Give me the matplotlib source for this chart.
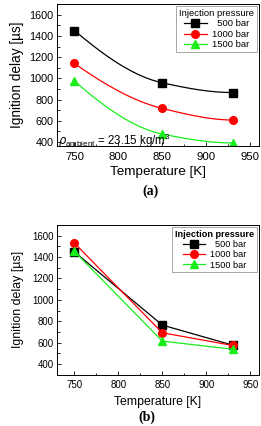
import numpy as np
import matplotlib
matplotlib.use('Agg')
from matplotlib import pyplot as plt
from matplotlib.ticker import MultipleLocator

plt.rcParams['font.family'] = ['Liberation Sans', 'DejaVu Sans']
plt.rcParams['mathtext.fontset'] = 'custom'
plt.rcParams['mathtext.rm'] = 'Liberation Sans'

temps = [750, 850, 930]
labels = ['  500 bar', '1000 bar', '1500 bar']
colors = ['black', 'red', '#1aee1a']
markers = ['s', 'o', '^']

# (a) ignition delay [us]
delay_a_500 = [1452, 958, 866]
delay_a_1000 = [1141, 716, 606]
delay_a_1500 = [974, 474, 390]

# (b) ignition delay [us]
delay_b_500 = [1448, 765, 578]
delay_b_1000 = [1530, 693, 575]
delay_b_1500 = [1452, 615, 540]


def pchip(x, y, n=120):
    # monotone cubic through the data points, for the smoothed lines of (a)
    x = np.asarray(x, float)
    y = np.asarray(y, float)
    h = np.diff(x)
    d = np.diff(y) / h
    m = np.zeros_like(y)
    for k in range(1, len(x) - 1):
        if d[k - 1] * d[k] > 0:
            w1 = 2 * h[k] + h[k - 1]
            w2 = h[k] + 2 * h[k - 1]
            m[k] = (w1 + w2) / (w1 / d[k - 1] + w2 / d[k])
    for i, (j0, j1, hh0, hh1) in enumerate([(0, 1, h[0], h[1]), (-1, -2, h[-1], h[-2])]):
        e = ((2 * hh0 + hh1) * d[j0] - hh0 * d[j1]) / (hh0 + hh1)
        if np.sign(e) != np.sign(d[j0]):
            e = 0
        elif np.sign(d[j0]) != np.sign(d[j1]) and abs(e) > 3 * abs(d[j0]):
            e = 3 * d[j0]
        m[0 if i == 0 else -1] = e
    xs, ys = [], []
    for k in range(len(x) - 1):
        t = np.linspace(0, 1, n)
        h00 = 2 * t**3 - 3 * t**2 + 1
        h10 = t**3 - 2 * t**2 + t
        h01 = -2 * t**3 + 3 * t**2
        h11 = t**3 - t**2
        xs.append(x[k] + t * h[k])
        ys.append(h00 * y[k] + h10 * h[k] * m[k] + h01 * y[k + 1] + h11 * h[k] * m[k + 1])
    return np.concatenate(xs), np.concatenate(ys)


fig = plt.figure(figsize=(2.61, 4.26), dpi=100)
ax1 = fig.add_axes([0.218, 0.657, 0.774, 0.333])
ax2 = fig.add_axes([0.218, 0.120, 0.774, 0.352])


def style(ax, ylo, tfs, xfs, yfs, xpad, ypad):
    ax.set_xlim(730, 960)
    ax.set_ylim(ylo, 1700)
    ax.xaxis.set_major_locator(MultipleLocator(50))
    ax.xaxis.set_minor_locator(MultipleLocator(25))
    ax.yaxis.set_major_locator(MultipleLocator(200))
    ax.yaxis.set_minor_locator(MultipleLocator(100))
    ax.tick_params(which='both', direction='in', width=0.6)
    ax.tick_params(axis='y', labelsize=tfs[1], pad=2.5)
    ax.tick_params(axis='x', labelsize=tfs[0], pad=4)
    ax.tick_params(which='major', length=3)
    ax.tick_params(which='minor', length=1.8)
    ax.set_xlabel('Temperature [K]', fontsize=xfs, labelpad=xpad)
    ax.set_ylabel('Ignition delay [\u00b5s]', fontsize=yfs, labelpad=ypad)
    for s in ax.spines.values():
        s.set_linewidth(0.7)


def legend(ax, bold, fs):
    leg = ax.legend(title='Injection pressure', loc='upper right', fontsize=fs,
                    title_fontsize=fs, handlelength=2.4, handletextpad=0.6,
                    borderaxespad=0.2, labelspacing=0.15, fancybox=False,
                    edgecolor='#999999', framealpha=1, borderpad=0.3)
    if bold:
        leg.get_title().set_fontweight('bold')
    leg.get_frame().set_linewidth(0.6)


series_a = [delay_a_500, delay_a_1000, delay_a_1500]
for ys, lab, c, m in zip(series_a, labels, colors, markers):
    sx, sy = pchip(temps, ys)
    ax1.plot(sx, sy, color=c, lw=0.9)
    ax1.plot(temps, ys, ls='none', marker=m, color=c, ms=5.5)
    ax1.plot([], [], color=c, lw=0.9, marker=m, ms=5.5, label=lab)
style(ax1, 360, (8.2, 7.8), 9.7, 9.8, 3, 4)
legend(ax1, False, 6.8)
ax1.text(731, 410, r'$\rho_{\mathrm{ambient}}$ = 23.15 kg/m$^\mathrm{3}$', fontsize=8.3,
         va='center', ha='left')

series_b = [delay_b_500, delay_b_1000, delay_b_1500]
for ys, lab, c, m in zip(series_b, labels, colors, markers):
    ax2.plot(temps, ys, color=c, lw=0.9, marker=m, ms=5.5, label=lab)
style(ax2, 300, (7, 6.9), 8.8, 8.9, 4, 6)
legend(ax2, True, 6.6)

fig.text(0.575, 0.55, '(a)', fontsize=10, fontweight='bold',
         family='Liberation Serif', ha='center', va='center')
fig.text(0.563, 0.004, '(b)', fontsize=10, fontweight='bold',
         family='Liberation Serif', ha='center', va='bottom')

fig.savefig('out.png', dpi=100)
